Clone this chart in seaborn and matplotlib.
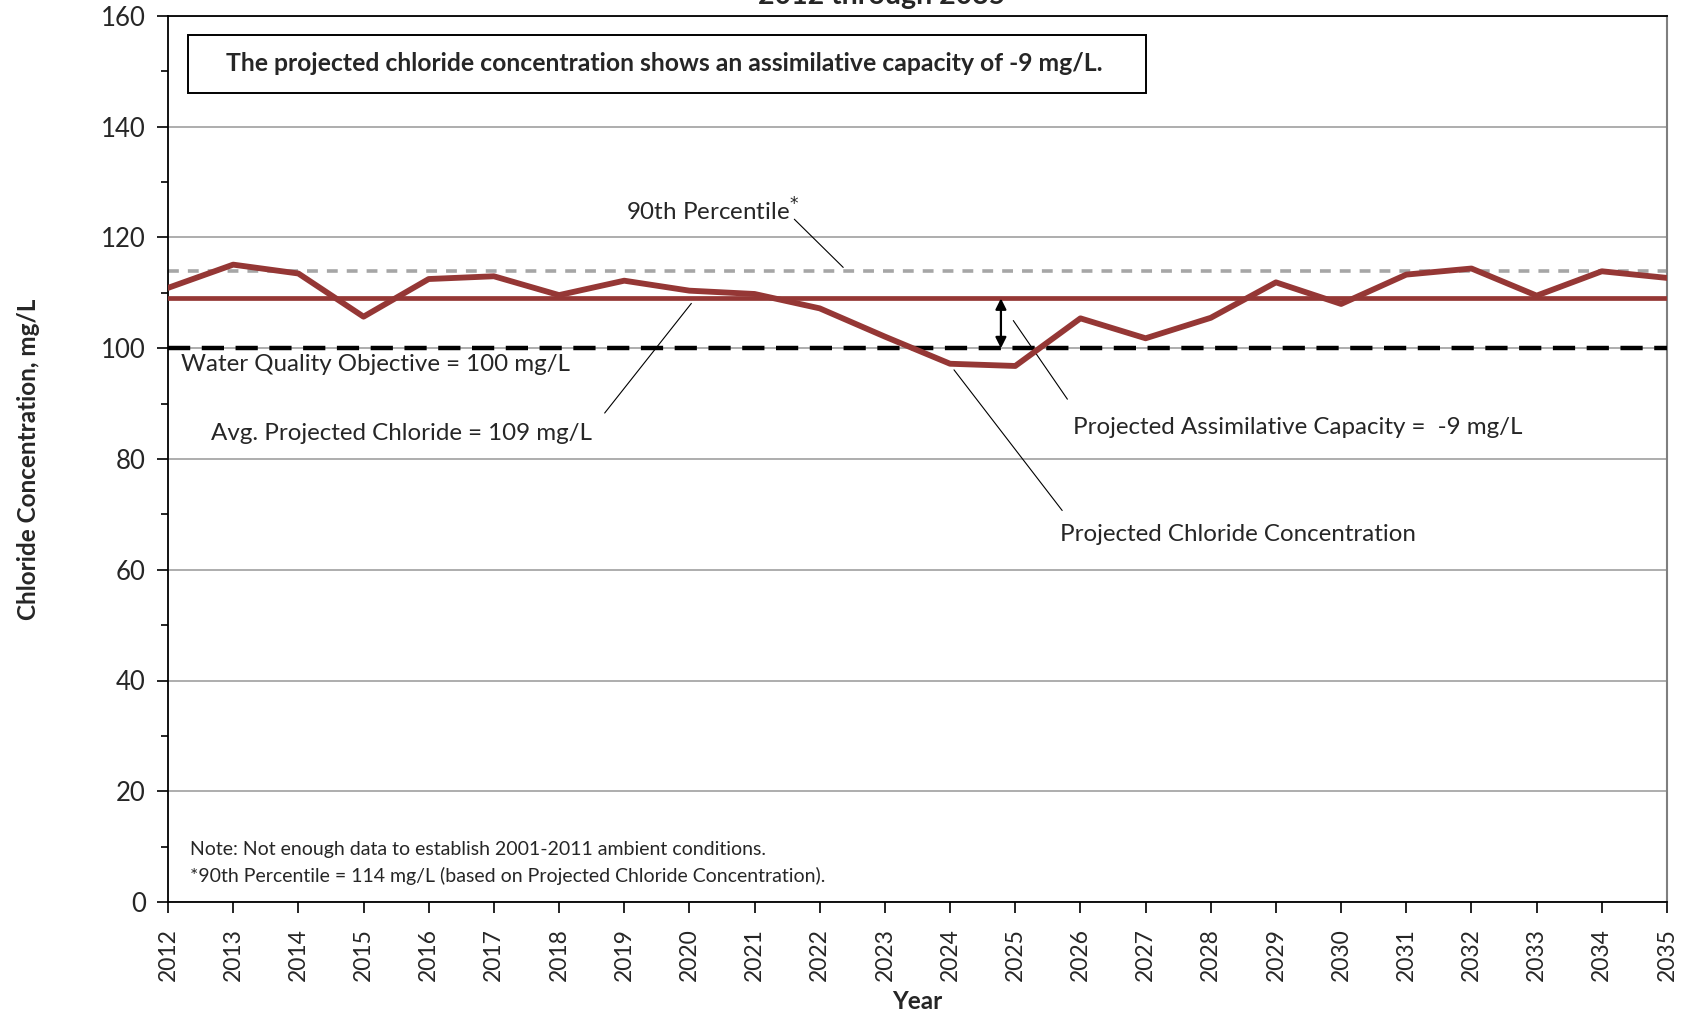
import numpy as np
import pandas as pd
import matplotlib
matplotlib.use("Agg")
import matplotlib.pyplot as plt
from matplotlib.patches import Rectangle
from matplotlib.ticker import MultipleLocator
import seaborn as sns

sns.set_style("white")
plt.rcParams["font.family"] = ["Lato", "DejaVu Sans"]

# data
years = list(range(2012, 2036))
chloride = [110.9, 115.1, 113.5, 105.7, 112.5, 113.0, 109.6, 112.2, 110.4, 109.8,
            107.2, 102.1, 97.2, 96.8, 105.4, 101.8, 105.5, 111.9, 108.0, 113.3,
            114.4, 109.5, 113.9, 112.7]
avg_chloride = 109
pct90 = 114
wqo = 100

df = pd.DataFrame({"Year": years, "Chloride": chloride})
red = "#953735"

fig = plt.figure(figsize=(16.91, 10.16), dpi=100)
ax = fig.add_axes([168 / 1691, 1 - 902 / 1016, 1499 / 1691, 886 / 1016])

# horizontal reference lines
ax.axhline(pct90, color="#a6a6a6", lw=2.6, ls=(0, (3, 2.5)), zorder=2)
ax.axhline(wqo, color="black", lw=3.2, ls=(0, (5, 2.6)), zorder=3)
ax.axhline(avg_chloride, color=red, lw=3.4, zorder=3)

sns.lineplot(data=df, x="Year", y="Chloride", ax=ax, color=red, lw=4.2, zorder=4)

ax.set_xlim(2012, 2035)
ax.set_ylim(0, 160)
ax.set_xticks(years)
ax.set_xticklabels([str(y) for y in years], rotation=90, fontsize=16.5)
ax.yaxis.set_major_locator(MultipleLocator(20))
ax.yaxis.set_minor_locator(MultipleLocator(10))
ax.tick_params(axis="y", which="major", direction="out", length=8, width=1.2,
               labelsize=18.5, left=True, color="black", pad=8)
ax.tick_params(axis="y", which="minor", direction="out", length=5, width=1.2,
               left=True, color="black")
ax.tick_params(axis="x", direction="out", length=8, width=1.2, bottom=True,
               color="black", pad=11)
ax.grid(axis="y", which="major", color="#a0a0a0", lw=1.2, zorder=1)
ax.set_axisbelow(True)

for s in ["left", "bottom", "top"]:
    ax.spines[s].set_color("black")
    ax.spines[s].set_linewidth(1.3)
ax.spines["right"].set_color("#7f7f7f")
ax.spines["right"].set_linewidth(1.5)

ax.set_xlabel("Year", fontsize=17.5, fontweight="bold", labelpad=6)
ax.set_ylabel("Chloride Concentration, mg/L", fontsize=17.5, fontweight="bold",
              labelpad=44)

# header box
ax.add_patch(Rectangle((2012.30, 146.1), 14.7, 10.5, fc="white", ec="black",
                       lw=1.4, zorder=5))
ax.text(2012.89, 151.4, "The projected chloride concentration shows an assimilative capacity of -9 mg/L.",
        fontsize=17.8, fontweight="bold", va="center", ha="left", zorder=6)

# annotations
fs = 17.4
ax.text(2019.02, 124.7, "90th Percentile$^{*}$", fontsize=fs, ha="left", va="center")
ax.plot([2021.61, 2022.36], [123.3, 114.6], color="black", lw=0.8)

ax.text(2012.2, 97.0, "Water Quality Objective = 100 mg/L", fontsize=fs,
        ha="left", va="center")

ax.text(2012.66, 84.6, "Avg. Projected Chloride = 109 mg/L", fontsize=fs,
        ha="left", va="center")
ax.plot([2018.70, 2020.03], [88.3, 108.1], color="black", lw=0.8)

ax.annotate("", xy=(2024.78, avg_chloride), xytext=(2024.78, wqo),
            arrowprops=dict(arrowstyle="<|-|>", color="black", lw=1.6,
                            mutation_scale=16, shrinkA=0, shrinkB=0), zorder=5)

ax.text(2025.88, 85.7, "Projected Assimilative Capacity =  -9 mg/L", fontsize=fs,
        ha="left", va="center")
ax.plot([2025.80, 2024.97], [90.8, 105.0], color="black", lw=0.8)

ax.text(2025.69, 66.4, "Projected Chloride Concentration", fontsize=fs,
        ha="left", va="center")
ax.plot([2025.72, 2024.06], [70.7, 96.1], color="black", lw=0.8)

ax.text(2012.33, 9.4, "Note: Not enough data to establish 2001-2011 ambient conditions.",
        fontsize=14, ha="left", va="center")
ax.text(2012.33, 4.7, "*90th Percentile = 114 mg/L (based on Projected Chloride Concentration).",
        fontsize=14, ha="left", va="center")

# title, clipped at the top edge as in the reference
fig.text(882 / 1691, 1 - 4 / 1016, "2012 through 2035", fontsize=20.5,
         fontweight="bold", ha="center", va="baseline")

fig.savefig("out.png", dpi=100)
